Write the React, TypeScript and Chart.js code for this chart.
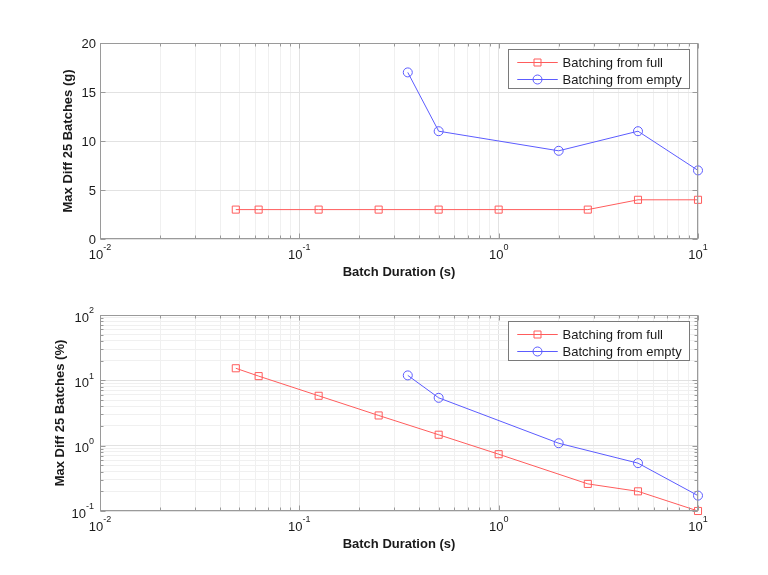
import React, { useEffect, useRef } from "react";
import { Chart, registerables } from "chart.js";

Chart.register(...registerables);

// ---- data ----
const seriesLabels = ["Batching from full", "Batching from empty"];
const durationsFull = [0.048, 0.0625, 0.125, 0.25, 0.5, 1, 2.8, 5, 10];
const gramsFull = [3, 3, 3, 3, 3, 3, 3, 4, 4];
const percentFull = [15.3, 11.6, 5.8, 2.9, 1.47, 0.74, 0.26, 0.2, 0.1];
const durationsEmpty = [0.35, 0.5, 2, 5, 10];
const gramsEmpty = [17, 11, 9, 11, 7];
const percentEmpty = [11.9, 5.4, 1.09, 0.54, 0.172];

// ---- axis ticks ----
const xDecades = [-2, -1, 0, 1];
const percentDecades = [-1, 0, 1, 2];
const gramTicks = [0, 5, 10, 15, 20];
const minorMultipliers = [1, 2, 3, 4, 5, 6, 7, 8, 9];

const xTitle = "Batch Duration (s)";
const yTitleTop = "Max Diff 25 Batches (g)";
const yTitleBottom = "Max Diff 25 Batches (%)";

const RED = "#ff5c5c";
const BLUE = "#5c5cff";
const SERIES_COLORS = [RED, BLUE];
const SERIES_MARKERS = ["rect", "circle"];
const FONT = "'Liberation Sans', Arial, Helvetica, sans-serif";
const AXIS_GREY = "#9a9a9a";
const TEXT = "#1a1a1a";

type Tk = { value: number; major: boolean; exp?: number };

function logTicks(decades: number[]): Tk[] {
  const out: Tk[] = [];
  decades.forEach((d, i) => {
    if (i === decades.length - 1) {
      out.push({ value: Math.pow(10, d), major: true, exp: d });
      return;
    }
    minorMultipliers.forEach((m) => {
      out.push({ value: m * Math.pow(10, d), major: m === 1, exp: m === 1 ? d : undefined });
    });
  });
  return out;
}

function linTicks(vals: number[]): Tk[] {
  return vals.map((v) => ({ value: v, major: true }));
}

function toPoints(xs: number[], ys: number[]) {
  return xs.map((x, i) => ({ x, y: ys[i] }));
}

function drawPow(
  ctx: CanvasRenderingContext2D,
  exp: number,
  x: number,
  y: number,
  align: "center" | "right"
) {
  const main = "10";
  const sup = String(exp);
  ctx.font = `13px ${FONT}`;
  const wMain = ctx.measureText(main).width;
  ctx.font = `9px ${FONT}`;
  const wSup = ctx.measureText(sup).width;
  const total = wMain + wSup;
  const left = align === "center" ? x - total / 2 : x - total;
  ctx.textAlign = "left";
  ctx.textBaseline = "middle";
  ctx.fillStyle = TEXT;
  ctx.font = `13px ${FONT}`;
  ctx.fillText(main, left, y + 3);
  ctx.font = `9px ${FONT}`;
  ctx.fillText(sup, left + wMain, y - 4);
}

type PanelCfg = {
  yLog: boolean;
  yTitle: string;
  yTitleX: number;
};

function makePlugin(cfg: PanelCfg) {
  return {
    id: "matlabDecor",
    afterDraw(chart: any) {
      const ctx: CanvasRenderingContext2D = chart.ctx;
      const { left, right, top, bottom } = chart.chartArea;
      const xs = chart.scales.x;
      const ys = chart.scales.y;
      const L = Math.round(left) + 0.5;
      const R = Math.round(right) - 0.5;
      const T = Math.round(top) + 0.5;
      const B = Math.round(bottom) - 0.5;
      ctx.save();
      // box
      ctx.strokeStyle = AXIS_GREY;
      ctx.lineWidth = 1;
      ctx.strokeRect(L, T, R - L, B - T);
      // ticks on all four sides, pointing inwards
      ctx.beginPath();
      (xs.ticks as Tk[]).forEach((t) => {
        const px = Math.round(xs.getPixelForValue(t.value)) + 0.5;
        const len = t.major ? 5 : 3;
        ctx.moveTo(px, B);
        ctx.lineTo(px, B - len);
        ctx.moveTo(px, T);
        ctx.lineTo(px, T + len);
      });
      (ys.ticks as Tk[]).forEach((t) => {
        const py = Math.round(ys.getPixelForValue(t.value)) + 0.5;
        const len = t.major ? 5 : 3;
        ctx.moveTo(L, py);
        ctx.lineTo(L + len, py);
        ctx.moveTo(R, py);
        ctx.lineTo(R - len, py);
      });
      ctx.stroke();

      // x tick labels
      (xs.ticks as Tk[]).forEach((t) => {
        if (t.exp === undefined) return;
        const px = xs.getPixelForValue(t.value);
        drawPow(ctx, t.exp, px, bottom + 13, "center");
      });
      // y tick labels
      (ys.ticks as Tk[]).forEach((t) => {
        const py = ys.getPixelForValue(t.value);
        if (cfg.yLog) {
          if (t.exp === undefined) return;
          drawPow(ctx, t.exp, left - 6, py, "right");
        } else {
          ctx.font = `13px ${FONT}`;
          ctx.fillStyle = TEXT;
          ctx.textAlign = "right";
          ctx.textBaseline = "middle";
          ctx.fillText(String(t.value), left - 4, py + 1);
        }
      });

      // titles
      ctx.fillStyle = TEXT;
      ctx.font = `bold 13px ${FONT}`;
      ctx.textAlign = "center";
      ctx.textBaseline = "middle";
      ctx.fillText(xTitle, (left + right) / 2, bottom + 33);
      ctx.save();
      ctx.translate(cfg.yTitleX, (top + bottom) / 2);
      ctx.rotate(-Math.PI / 2);
      ctx.fillText(cfg.yTitle, 0, 0);
      ctx.restore();

      // legend
      const lw = 181;
      const lh = 39;
      const lx = Math.round(right) - 9 - lw + 0.5;
      const ly = Math.round(top) + 6 + 0.5;
      ctx.fillStyle = "#ffffff";
      ctx.fillRect(lx, ly, lw, lh);
      ctx.strokeStyle = "#7a7a7a";
      ctx.lineWidth = 1;
      ctx.strokeRect(lx, ly, lw, lh);
      seriesLabels.forEach((label, i) => {
        const color = SERIES_COLORS[i];
        const cy = Math.round(ly + 12 + i * 17) + 0.5;
        ctx.strokeStyle = color;
        ctx.lineWidth = 1;
        ctx.beginPath();
        ctx.moveTo(lx + 9, cy);
        ctx.lineTo(lx + 49, cy);
        ctx.stroke();
        const mx = lx + 29;
        ctx.fillStyle = "#ffffff";
        ctx.beginPath();
        if (SERIES_MARKERS[i] === "rect") {
          ctx.rect(mx - 3.5, cy - 3.5, 7, 7);
        } else {
          ctx.arc(mx, cy, 4.5, 0, Math.PI * 2);
        }
        ctx.fill();
        ctx.stroke();
        ctx.beginPath();
        ctx.moveTo(lx + 9, cy);
        ctx.lineTo(lx + 49, cy);
        ctx.stroke();
        ctx.fillStyle = TEXT;
        ctx.font = `13px ${FONT}`;
        ctx.textAlign = "left";
        ctx.textBaseline = "middle";
        ctx.fillText(label, lx + 54, cy + 0.5);
      });
      ctx.restore();
    },
  };
}

function gridColor(c: any) {
  return c.tick && c.tick.major ? "#e2e2e2" : "#f0f0f0";
}

function buildConfig(
  full: number[],
  empty: number[],
  yLog: boolean,
  padBottom: number,
  padTop: number,
  cfg: PanelCfg
): any {
  const xTicks = logTicks(xDecades);
  const yTicks = yLog ? logTicks(percentDecades) : linTicks(gramTicks);
  const yBase = yLog
    ? { type: "logarithmic", min: 0.1, max: 100 }
    : { type: "linear", min: 0, max: 20 };
  return {
    type: "line",
    data: {
      datasets: [
        {
          label: seriesLabels[0],
          data: toPoints(durationsFull, full),
          borderColor: RED,
          borderWidth: 1,
          pointStyle: SERIES_MARKERS[0],
          pointRadius: 5,
          pointBorderWidth: 1,
          pointBorderColor: RED,
          pointBackgroundColor: "rgba(0,0,0,0)",
          tension: 0,
          fill: false,
          clip: false,
        },
        {
          label: seriesLabels[1],
          data: toPoints(durationsEmpty, empty),
          borderColor: BLUE,
          borderWidth: 1,
          pointStyle: SERIES_MARKERS[1],
          pointRadius: 4.5,
          pointBorderWidth: 1,
          pointBorderColor: BLUE,
          pointBackgroundColor: "rgba(0,0,0,0)",
          tension: 0,
          fill: false,
          clip: false,
        },
      ],
    },
    options: {
      animation: false,
      responsive: false,
      devicePixelRatio: 1,
      layout: { padding: { left: 100, right: 70, top: padTop, bottom: padBottom } },
      plugins: { legend: { display: false }, tooltip: { enabled: false } },
      events: [],
      scales: {
        x: {
          type: "logarithmic",
          min: 0.01,
          max: 10,
          afterBuildTicks: (s: any) => {
            s.ticks = xTicks.map((t) => ({ ...t }));
          },
          ticks: { display: false },
          grid: { color: gridColor, drawTicks: false, lineWidth: 1 },
          border: { display: false },
          title: { display: false },
        },
        y: {
          ...yBase,
          afterBuildTicks: (s: any) => {
            s.ticks = yTicks.map((t) => ({ ...t }));
          },
          ticks: { display: false },
          grid: { color: gridColor, drawTicks: false, lineWidth: 1 },
          border: { display: false },
          title: { display: false },
        },
      },
    },
    plugins: [makePlugin(cfg)],
  };
}

function Panel(props: {
  top: number;
  height: number;
  full: number[];
  empty: number[];
  yLog: boolean;
  padTop: number;
  padBottom: number;
  cfg: PanelCfg;
}) {
  const ref = useRef<HTMLCanvasElement | null>(null);
  useEffect(() => {
    if (!ref.current) return;
    const chart = new Chart(
      ref.current,
      buildConfig(props.full, props.empty, props.yLog, props.padBottom, props.padTop, props.cfg)
    );
    return () => chart.destroy();
  }, []);
  return (
    <canvas
      ref={ref}
      width={768}
      height={props.height}
      style={{ position: "absolute", left: 0, top: props.top, width: 768, height: props.height }}
    />
  );
}

export default function App() {
  return (
    <div
      style={{
        position: "fixed",
        left: 0,
        top: 0,
        width: 768,
        height: 575,
        background: "#ffffff",
        overflow: "hidden",
      }}
    >
      <Panel
        top={0}
        height={287}
        full={gramsFull}
        empty={gramsEmpty}
        yLog={false}
        padTop={43}
        padBottom={48}
        cfg={{ yLog: false, yTitle: yTitleTop, yTitleX: 68 }}
      />
      <Panel
        top={287}
        height={288}
        full={percentFull}
        empty={percentEmpty}
        yLog={true}
        padTop={28}
        padBottom={64}
        cfg={{ yLog: true, yTitle: yTitleBottom, yTitleX: 60 }}
      />
    </div>
  );
}
